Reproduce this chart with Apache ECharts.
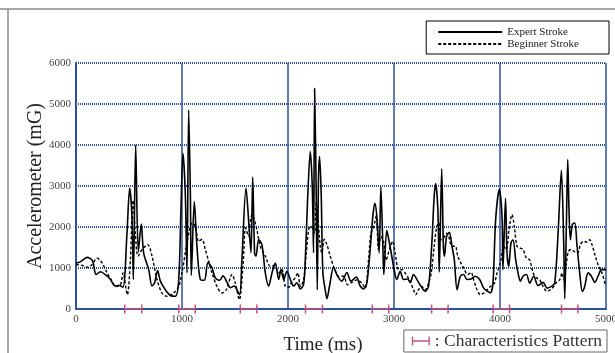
<!DOCTYPE html>
<html>
<head>
<meta charset="utf-8">
<script src="https://cdn.jsdelivr.net/npm/echarts@6/dist/echarts.min.js"></script>
<style>html,body{margin:0;padding:0;background:#fff;}#c{width:615px;height:353px;}</style>
</head>
<body>
<div id="c"></div>
<script>
// ---- data ----
const xTicks = [0, 1000, 2000, 3000, 4000, 5000];
const yTicks = [0, 1000, 2000, 3000, 4000, 5000, 6000];

const expertT = [0,40,105,155,190,230,280,325,370,405,443,481,506,528,541,563,588,616,638,686,717,742,770,796,843,890,937,969,990,1009,1031,1047,1063,1079,1088,1116,1141,1173,1211,1245,1283,1314,1355,1387,1425,1456,1494,1519,1544,1566,1604,1630,1651,1667,1685,1698,1723,1754,1786,1817,1849,1880,1912,1934,1959,1990,2022,2053,2084,2116,2147,2163,2185,2210,2229,2241,2251,2266,2276,2288,2298,2313,2329,2351,2367,2392,2430,2468,2508,2556,2593,2644,2681,2713,2744,2775,2800,2819,2838,2860,2876,2895,2904,2932,2957,2979,3001,3027,3058,3090,3128,3153,3184,3216,3253,3294,3326,3357,3379,3393,3414,3427,3450,3466,3476,3496,3522,3547,3569,3595,3626,3657,3689,3727,3768,3808,3846,3884,3909,3934,3959,3994,4019,4028,4052,4066,4082,4104,4123,4148,4170,4192,4217,4249,4280,4318,4359,4406,4444,4485,4516,4548,4579,4601,4611,4626,4639,4651,4664,4683,4705,4727,4752,4777,4799,4831,4862,4894,4925,4957,4988,5000];
const expertV = [1120,1150,1260,1180,840,910,830,720,560,580,530,1850,2950,2260,720,4000,1400,2070,1370,960,560,640,940,680,470,330,310,700,2420,3800,2830,880,4850,2830,820,2620,1530,720,700,1130,1000,760,700,810,650,520,560,460,350,1250,2950,2100,1370,3220,1350,1290,1690,1570,880,560,880,1120,720,960,720,920,720,560,640,490,600,1200,2670,3840,2990,1370,5380,2830,470,3240,3720,2830,880,470,250,560,1020,800,680,890,680,780,560,490,640,1450,2260,2580,2260,1370,2980,1530,840,1920,1610,1290,960,720,920,720,730,650,840,720,560,430,560,1610,2750,3060,2420,900,3420,1530,1290,1770,1870,1530,1200,470,800,840,720,730,800,720,510,430,390,640,2180,2920,2260,960,2700,1370,1040,1610,1690,1200,880,680,800,840,630,800,570,650,510,550,630,1850,3380,1610,250,2020,3650,2420,1690,2060,2100,1530,880,430,550,880,800,650,800,960,960,940];

const beginnerT = [0,50,110,150,200,245,290,330,375,420,443,484,513,538,560,585,623,676,717,764,811,858,921,969,1000,1041,1072,1094,1126,1157,1189,1220,1252,1283,1330,1377,1418,1472,1503,1541,1575,1600,1629,1640,1660,1680,1705,1739,1786,1833,1871,1912,1943,1975,2006,2038,2069,2094,2116,2147,2170,2195,2216,2235,2251,2266,2282,2304,2320,2342,2367,2398,2436,2477,2524,2562,2603,2650,2697,2728,2760,2782,2807,2832,2854,2876,2901,2926,2957,2986,3011,3043,3074,3105,3146,3184,3206,3231,3263,3294,3326,3351,3379,3404,3425,3442,3467,3498,3516,3547,3579,3601,3632,3657,3695,3727,3752,3783,3815,3846,3878,3909,3947,3972,4003,4035,4060,4085,4113,4135,4160,4186,4217,4249,4280,4312,4343,4375,4406,4444,4475,4507,4538,4563,4585,4601,4626,4645,4670,4702,4733,4758,4790,4821,4846,4868,4899,4931,4962,4994];
const beginnerV = [1080,1070,1020,1080,1240,1130,900,720,550,590,880,350,1200,2650,1850,1290,1450,1570,1290,720,390,310,390,550,880,1530,1940,2100,2020,1650,1700,1450,1160,880,550,390,470,840,630,230,1040,1980,1770,2050,2300,2200,1950,1530,1290,1040,1060,880,960,550,530,670,760,880,550,710,1290,1940,2020,1940,1850,2590,2260,1530,1370,1700,1570,1290,1000,800,800,590,650,710,630,510,1200,1850,1980,2270,1450,1770,1650,1200,1450,1650,1370,960,960,880,710,470,350,470,550,470,630,880,1530,2020,2100,1690,1730,1850,1770,1530,1530,1290,1120,1000,840,890,710,470,350,390,470,550,630,880,1120,1530,1450,1940,2300,2020,1530,1490,1450,1240,1200,880,760,710,550,430,470,550,670,710,880,710,1120,1400,1450,1400,1370,1570,1650,1630,1690,1570,1290,1040,880,590];

const patternStart = [460, 970, 1550, 2165, 2795, 3355, 3935, 4580];
const patternEnd   = [620, 1125, 1705, 2325, 2950, 3510, 4090, 4735];

// ---- chart ----
const serif = '"Liberation Serif", "DejaVu Serif", serif';
const blue = '#2a4f9f';
const pink = '#c4507f';

const expertData = expertT.map((t, i) => [t, expertV[i]]);
const beginnerData = beginnerT.map((t, i) => [t, beginnerV[i]]);
const patternData = patternStart.map((s, i) => [s, patternEnd[i]]);
const plain = v => String(v);

const chart = echarts.init(document.getElementById('c'), null, {renderer: 'canvas'});
chart.setOption({
  animation: false,
  backgroundColor: '#fff',
  grid: {left: 76, right: 9, top: 63, bottom: 44, containLabel: false, outerBoundsMode: 'none'},
  xAxis: {
    type: 'value', min: xTicks[0], max: xTicks[xTicks.length - 1], interval: 1000,
    axisLine: {show: true, lineStyle: {color: blue, width: 2}},
    axisTick: {show: false},
    axisLabel: {fontFamily: serif, fontSize: 11, color: '#444', margin: 5, formatter: plain},
    splitLine: {show: true, lineStyle: {color: blue, width: 1.5}},
    name: 'Time (ms)', nameLocation: 'middle', nameGap: 27, nameMoveOverlap: false,
    nameTextStyle: {fontFamily: serif, fontSize: 19, color: '#222', padding: [0, 36, 0, 0]}
  },
  yAxis: {
    type: 'value', min: yTicks[0], max: yTicks[yTicks.length - 1], interval: 1000,
    axisLine: {show: true, lineStyle: {color: blue, width: 2}},
    axisTick: {show: false},
    axisLabel: {fontFamily: serif, fontSize: 11, color: '#444', margin: 5, formatter: plain},
    splitLine: {show: true, lineStyle: {color: blue, width: 2, type: [1, 1]}},
    name: 'Accelerometer (mG)', nameLocation: 'middle', nameGap: 30, nameMoveOverlap: false,
    nameTextStyle: {fontFamily: serif, fontSize: 20, color: '#222'}
  },
  legend: [{
    data: ['Expert Stroke', 'Beginner Stroke'],
    orient: 'vertical', right: 6, top: 21,
    padding: [5, 30, 4, 11],
    itemWidth: 64, itemHeight: 12, itemGap: 0,
    itemStyle: {opacity: 0},
    borderColor: '#000', borderWidth: 1, backgroundColor: '#fff',
    textStyle: {fontFamily: serif, fontSize: 11, color: '#222', lineHeight: 12},
    selectedMode: false
  }, {
    data: [{name: ': Characteristics Pattern', icon: 'path://M0,0h1.5v10h-1.5z M0,4.25h20v1.5h-20z M18.5,0h1.5v10h-1.5z'}],
    right: 8, top: 330,
    padding: [2, 5, 2, 8],
    itemWidth: 18, itemHeight: 9,
    borderColor: '#666', borderWidth: 1, backgroundColor: '#fff',
    textStyle: {fontFamily: serif, fontSize: 17.5, color: '#333'},
    selectedMode: false
  }],
  series: [{
    name: 'Expert Stroke', type: 'line', data: expertData,
    symbol: 'none', smooth: 0.3, z: 5,
    lineStyle: {color: '#000', width: 1.6},
    itemStyle: {color: '#000'}
  }, {
    name: 'Beginner Stroke', type: 'line', data: beginnerData,
    symbol: 'none', smooth: 0.3, z: 4,
    lineStyle: {color: '#000', width: 1.4, type: [3, 2]},
    itemStyle: {color: '#000'}
  }, {
    name: ': Characteristics Pattern', type: 'custom', data: patternData,
    itemStyle: {color: pink}, z: 10, clip: false,
    renderItem: function (params, api) {
      const a = api.coord([api.value(0), 0]);
      const b = api.coord([api.value(1), 0]);
      const st = {stroke: pink, lineWidth: 1.5};
      return {type: 'group', children: [
        {type: 'line', shape: {x1: a[0], y1: a[1], x2: b[0], y2: b[1]}, style: st},
        {type: 'line', shape: {x1: a[0], y1: a[1] - 4.5, x2: a[0], y2: a[1] + 4.5}, style: st},
        {type: 'line', shape: {x1: b[0], y1: b[1] - 4.5, x2: b[0], y2: b[1] + 4.5}, style: st}
      ]};
    }
  }],
  graphic: [
    {type: 'line', shape: {x1: 0, y1: 9, x2: 615, y2: 9}, style: {stroke: '#8a8a8a', lineWidth: 1.5}},
    {type: 'line', shape: {x1: 8, y1: 9, x2: 8, y2: 353}, style: {stroke: '#8a8a8a', lineWidth: 1.5}}
  ]
});
</script>
</body>
</html>
